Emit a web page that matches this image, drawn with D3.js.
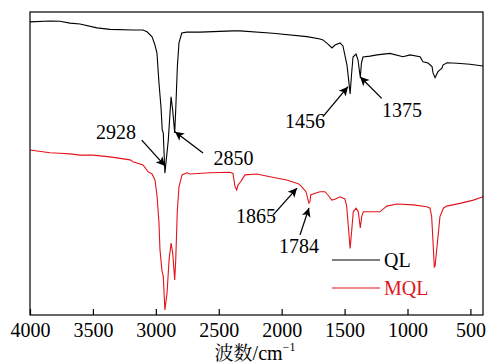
<!DOCTYPE html>
<html>
<head>
<meta charset="utf-8">
<script src="https://cdn.jsdelivr.net/npm/d3@7"></script>
<style>
  body { margin: 0; background: #fff; }
</style>
</head>
<body>
<svg id="chart" width="491" height="364"></svg>
<script>
// wavenumber (cm-1) and transmittance (a.u.)
const qlWave = [4000, 3841, 3762, 3682, 3603, 3468, 3364, 3181, 3102, 3070, 3030, 3007, 2991, 2975, 2959, 2949, 2941, 2928, 2901, 2879, 2866, 2850, 2842, 2829, 2816, 2794, 2755, 2649, 2387, 2331, 2069, 1799, 1695, 1672, 1632, 1600, 1576, 1536, 1513, 1481, 1465, 1456, 1445, 1433, 1409, 1393, 1381, 1375, 1366, 1354, 1298, 1242, 1139, 1036, 980, 901, 877, 837, 805, 797, 781, 758, 726, 718, 686, 607, 503, 400];
const qlT = [97.7, 98.0, 97.9, 97.3, 97.0, 95.7, 95.2, 95.0, 95.0, 94.4, 92.7, 90.0, 87.3, 77.3, 69.3, 61.7, 60.7, 47.3, 58.3, 72.7, 68.3, 60.7, 68.3, 82.7, 90.7, 94.0, 94.3, 94.3, 94.7, 94.7, 93.9, 92.8, 92.0, 91.7, 90.3, 89.0, 90.0, 90.7, 89.7, 83.3, 77.3, 73.7, 80.0, 86.0, 87.0, 85.0, 81.0, 79.3, 84.0, 86.0, 86.3, 86.7, 87.2, 86.1, 86.7, 86.1, 84.4, 84.0, 82.8, 80.7, 79.1, 81.1, 82.3, 83.3, 84.1, 83.9, 83.6, 83.0];

const mqlWave = [4000, 3841, 3762, 3682, 3603, 3499, 3364, 3205, 3181, 3102, 3062, 3030, 3007, 2991, 2975, 2967, 2951, 2941, 2928, 2911, 2895, 2879, 2866, 2850, 2842, 2829, 2816, 2792, 2752, 2728, 2570, 2411, 2387, 2371, 2357, 2347, 2326, 2307, 2291, 2198, 2093, 1960, 1880, 1865, 1841, 1807, 1784, 1775, 1769, 1735, 1695, 1656, 1632, 1602, 1576, 1536, 1497, 1483, 1470, 1456, 1443, 1431, 1409, 1391, 1375, 1364, 1351, 1298, 1219, 1165, 1086, 954, 847, 821, 808, 795, 787, 781, 768, 755, 742, 715, 689, 583, 477, 400];
const mqlT = [55.0, 54.1, 53.9, 53.7, 53.3, 53.3, 52.7, 51.7, 51.1, 50.0, 47.8, 47.0, 45.0, 40.0, 30.7, 21.7, 14.7, 13.0, 1.7, 7.3, 18.3, 24.0, 20.7, 11.7, 18.3, 35.0, 42.7, 46.7, 47.4, 47.0, 47.4, 47.6, 47.2, 42.8, 41.7, 43.3, 44.4, 45.7, 46.7, 47.0, 46.1, 45.0, 43.9, 43.7, 42.8, 41.1, 37.3, 37.8, 40.0, 40.6, 41.1, 41.1, 40.0, 38.3, 38.6, 39.4, 38.7, 36.1, 29.4, 22.2, 28.3, 34.4, 35.6, 34.4, 29.0, 32.8, 34.4, 34.4, 34.4, 36.3, 37.0, 36.7, 36.1, 35.6, 32.8, 22.8, 16.0, 16.3, 21.7, 27.2, 32.8, 35.6, 36.3, 37.2, 38.3, 39.4];

const xTicks = [4000, 3500, 3000, 2500, 2000, 1500, 1000, 500];

// peak labels: arrow tip, arrow tail and label position, as [wavenumber, value]
const peakLabels = ["2928", "2850", "1456", "1375", "1865", "1784"];
const peakTip = [[2927, 49.7], [2848, 61.1], [1473, 76.1], [1377, 79.4], [1878, 42.3], [1783, 35.7]];
const peakTail = [[3112, 58.3], [2625, 54.0], [1672, 66.1], [1205, 72.2], [2069, 33.3], [1854, 26.7]];
const peakText = [[3317, 58.7], [2383, 50.0], [1815, 62.3], [1044, 66.0], [2204, 30.7], [1862, 20.7]];

const SERIF = '"Liberation Serif", serif';
const svg = d3.select("#chart");
const margin = { top: 12, right: 8, bottom: 49, left: 30 };
const W = 491, H = 364;

const x = d3.scaleLinear().domain([4000, 400]).range([margin.left, W - margin.right]);
const y = d3.scaleLinear().domain([0, 101]).range([H - margin.bottom, margin.top]);

const defs = svg.append("defs");
defs.append("marker")
  .attr("id", "head")
  .attr("viewBox", "0 0 10 10")
  .attr("refX", 10).attr("refY", 5)
  .attr("markerWidth", 11).attr("markerHeight", 9)
  .attr("markerUnits", "userSpaceOnUse")
  .attr("orient", "auto")
  .append("path").attr("d", "M0,0 L10,5 L0,10 L2.5,5 Z").attr("fill", "#000");

const line = d3.line().x(d => x(d[0])).y(d => y(d[1]));

svg.append("path")
  .datum(d3.zip(qlWave, qlT))
  .attr("d", line).attr("fill", "none")
  .attr("stroke", "#000").attr("stroke-width", 1.1);

svg.append("path")
  .datum(d3.zip(mqlWave, mqlT))
  .attr("d", line).attr("fill", "none")
  .attr("stroke", "#e3141b").attr("stroke-width", 1.1);

// frame
svg.append("rect")
  .attr("x", margin.left).attr("y", margin.top)
  .attr("width", W - margin.left - margin.right)
  .attr("height", H - margin.top - margin.bottom)
  .attr("fill", "none").attr("stroke", "#000").attr("stroke-width", 1.2);

// bottom axis, ticks inward
const xAxis = svg.append("g")
  .attr("transform", `translate(0,${H - margin.bottom})`)
  .call(d3.axisBottom(x).tickValues(xTicks).tickFormat(d3.format("d"))
    .tickSizeInner(-6).tickSizeOuter(0).tickPadding(8));
xAxis.select(".domain").remove();
xAxis.selectAll("line").attr("stroke-width", 1.2);
xAxis.selectAll("text").attr("fill", "#000")
  .style("font-family", SERIF).style("font-size", "20px");

const title = svg.append("text")
  .attr("x", 255).attr("y", 360)
  .attr("text-anchor", "middle")
  .style("font-family", SERIF).style("font-size", "20px");
title.append("tspan").text("波数").style("font-family", '"Noto Serif CJK SC", serif').style("font-size", "19px");
title.append("tspan").text("/cm");
title.append("tspan").text("−1").style("font-size", "12px").attr("dy", -9);

// peak annotations
peakLabels.forEach((lab, i) => {
  svg.append("line")
    .attr("x1", x(peakTail[i][0])).attr("y1", y(peakTail[i][1]))
    .attr("x2", x(peakTip[i][0])).attr("y2", y(peakTip[i][1]))
    .attr("stroke", "#000").attr("stroke-width", 1.3)
    .attr("marker-end", "url(#head)");
  svg.append("text")
    .attr("x", x(peakText[i][0])).attr("y", y(peakText[i][1]))
    .attr("text-anchor", "middle")
    .style("font-family", SERIF).style("font-size", "20px")
    .text(lab);
});

// legend
const legend = [["QL", "#000"], ["MQL", "#e3141b"]];
legend.forEach((d, i) => {
  const ly = 260 + i * 28;
  svg.append("line").attr("x1", 332).attr("x2", 380).attr("y1", ly).attr("y2", ly)
    .attr("stroke", d[1]).attr("stroke-width", 1.2);
  svg.append("text").attr("x", 384).attr("y", ly + 7)
    .style("font-family", SERIF).style("font-size", "20px")
    .attr("fill", d[1]).text(d[0]);
});
</script>
</body>
</html>
